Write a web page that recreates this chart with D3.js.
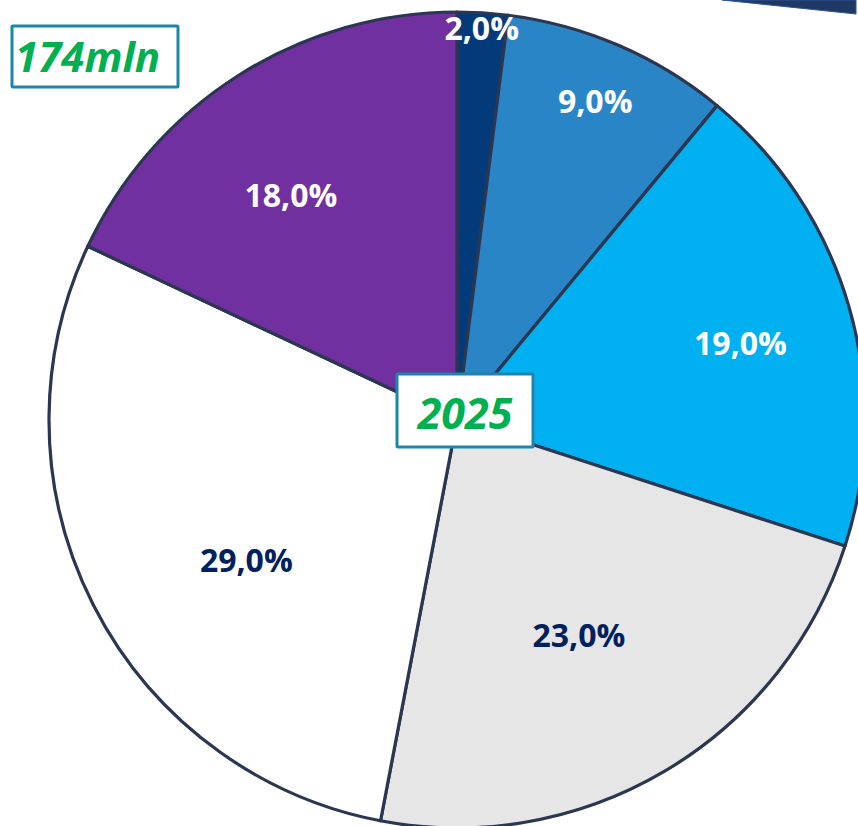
<!DOCTYPE html>
<html><head><meta charset="utf-8">
<script src="https://cdn.jsdelivr.net/npm/d3@7"></script>
<style>html,body{margin:0;padding:0;background:#fff;overflow:hidden}</style>
</head><body>
<svg id="chart" width="858" height="826"></svg>
<script>
// Data
const categories = ["A","B","C","D","E","F"];
const values = [2, 9, 19, 23, 29, 18];
const sliceColors = ["#033B7A","#2A85C7","#00B0F0","#E6E6E6","#FFFFFF","#7030A0"];
const labelColors = ["#FFFFFF","#FFFFFF","#FFFFFF","#002060","#002060","#FFFFFF"];
const totalLabel = "174mln";
const yearLabel = "2025";
// label layout: radius fraction and angle adjust (degrees)
const labelRadius = [0.963, 0.853, 0.72, 0.605, 0.62, 0.686];
const labelAngleAdj = [0, 0, 1, 1, -6.6, -4];

const svg = d3.select("#chart");
const cx = 457, cy = 420, R = 408;
const g = svg.append("g").attr("transform", `translate(${cx},${cy})`);

const pie = d3.pie().sort(null).value(d => d)(values);
const arc = d3.arc().innerRadius(0).outerRadius(R);

g.selectAll("path.slice").data(pie).join("path")
  .attr("class","slice")
  .attr("d", arc)
  .attr("fill", (d,i) => sliceColors[i])
  .attr("stroke", "#2B3650")
  .attr("stroke-width", 3.2)
  .attr("stroke-linejoin","round");

const fmt = v => d3.format(".1f")(v).replace(".", ",") + "%";
g.selectAll("text.lbl").data(pie).join("text")
  .attr("class","lbl")
  .attr("x", (d,i) => { const a = (d.startAngle+d.endAngle)/2 + labelAngleAdj[i]*Math.PI/180; return Math.sin(a)*R*labelRadius[i]; })
  .attr("y", (d,i) => { const a = (d.startAngle+d.endAngle)/2 + labelAngleAdj[i]*Math.PI/180; return -Math.cos(a)*R*labelRadius[i]; })
  .attr("text-anchor","middle")
  .attr("dominant-baseline","central")
  .attr("font-family","'Open Sans', sans-serif")
  .attr("font-weight","bold")
  .attr("font-size", 32)
  .attr("fill", (d,i) => labelColors[i])
  .text(d => fmt(d.data));

// decorative bar top-right
svg.append("polygon")
  .attr("points","722,0 856,0 856,14")
  .attr("fill","#203864")
  .attr("stroke","#2E5597")
  .attr("stroke-width",1);

// total box
svg.append("rect").attr("x",12).attr("y",26).attr("width",166).attr("height",61)
  .attr("fill","#fff").attr("stroke","#1B85AE").attr("stroke-width",3).attr("rx",1);
svg.append("text").attr("x",15).attr("y",72)
  .attr("font-family","'Open Sans', sans-serif").attr("font-weight","bold").attr("font-style","italic")
  .attr("font-size",42).attr("fill","#00B050").text(totalLabel);

// year box
svg.append("rect").attr("x",397).attr("y",374).attr("width",136).attr("height",73)
  .attr("fill","#fff").attr("stroke","#1B85AE").attr("stroke-width",3).attr("rx",1);
svg.append("text").attr("x",465).attr("y",412)
  .attr("text-anchor","middle").attr("dominant-baseline","central")
  .attr("font-family","'Open Sans', sans-serif").attr("font-weight","bold").attr("font-style","italic")
  .attr("font-size",43).attr("fill","#00B050").text(yearLabel);
</script>
</body></html>
